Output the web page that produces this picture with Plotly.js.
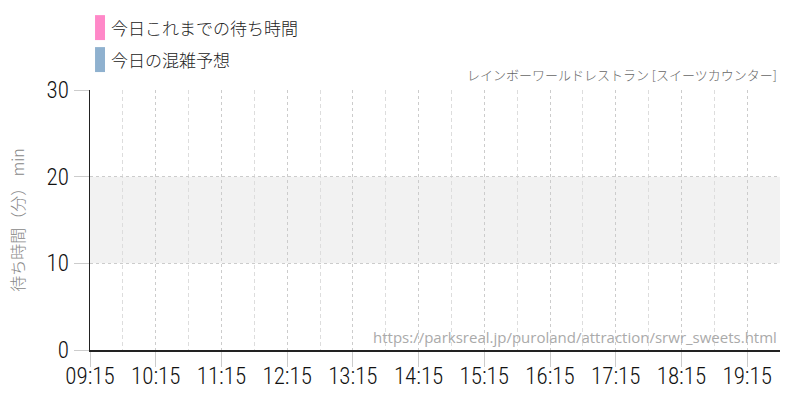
<!DOCTYPE html>
<html>
<head>
<meta charset="utf-8">
<script src="https://cdn.plot.ly/plotly-3.0.1.min.js"></script>
<style>
  html, body { margin: 0; padding: 0; background: #fff; }
  #chart { width: 800px; height: 400px; }
</style>
</head>
<body>
<div id="chart"></div>
<script>
// nothing recorded yet today, so both series are empty
const times = []
const waitSoFar = []
const forecastTimes = []
const forecastWait = []
const seriesNames = ['今日これまでの待ち時間', '今日の混雑予想']
const seriesColors = ['#ff88c8', '#8fb1cf']
const usualRange = [10, 20]
const xRange = ['2024-01-01 09:15', '2024-01-01 19:45']
const yTicks = [0, 10, 20, 30]

const JP = '"Noto Sans CJK JP", sans-serif'
const NARROW = '"Roboto Condensed", "DejaVu Sans Condensed", "DejaVu Sans", sans-serif'

let data = [
  {
    x: times,
    y: waitSoFar,
    name: seriesNames[0],
    type: 'scatter',
    mode: 'lines',
    line: { color: seriesColors[0], width: 3 },
    showlegend: false
  },
  {
    x: forecastTimes,
    y: forecastWait,
    name: seriesNames[1],
    type: 'bar',
    marker: { color: seriesColors[1] },
    showlegend: false
  }
]

// hand-drawn legend: tall colour bars with labels above the plot
let shapes = [
  {
    type: 'rect', xref: 'paper', yref: 'y', layer: 'below',
    x0: 0, x1: 1, y0: usualRange[0], y1: usualRange[1],
    fillcolor: '#f2f2f2', line: { width: 0 }
  }
]
let annotations = []
seriesNames.forEach(function (name, i) {
  let top = 1.288 - i * 0.123
  shapes.push({
    type: 'rect', xref: 'paper', yref: 'paper',
    x0: 0.0073, x1: 0.0217, y0: top - 0.096, y1: top,
    fillcolor: seriesColors[i], line: { width: 0 }
  })
  annotations.push({
    xref: 'paper', yref: 'paper', x: 0.028, y: top - 0.048,
    xanchor: 'left', yanchor: 'middle', showarrow: false,
    text: name, font: { family: JP, size: 17, color: '#222', weight: 300 }
  })
})
annotations.push({
  xref: 'paper', yref: 'paper', x: 0.998, y: 1.058,
  xanchor: 'right', yanchor: 'middle', showarrow: false,
  text: 'レインボーワールドレストラン [スイーツカウンター]',
  font: { family: JP, size: 13, color: '#666', weight: 300 }
})
annotations.push({
  xref: 'paper', yref: 'paper', x: 0.998, y: 0.05,
  xanchor: 'right', yanchor: 'middle', showarrow: false,
  text: 'https://parksreal.jp/puroland/attraction/srwr_sweets.html',
  font: { family: '"Open Sans", sans-serif', size: 15, color: '#aaa' }
})

let layout = {
  width: 800,
  height: 400,
  showlegend: false,
  paper_bgcolor: '#fff',
  plot_bgcolor: '#fff',
  margin: { l: 90, r: 20, t: 90, b: 50 },
  xaxis: {
    type: 'date',
    range: xRange,
    tick0: '2024-01-01 09:15',
    dtick: 3600000,
    tickformat: '%H:%M',
    ticks: 'outside',
    ticklen: 15,
    tickcolor: '#ccc',
    ticklabelstandoff: -10,
    tickfont: { family: NARROW, size: 23, color: '#111', stretch: 'condensed', weight: 300 },
    showgrid: true,
    gridcolor: '#ccc',
    griddash: 'dot',
    minor: {
      tickmode: 'linear',
      tick0: '2024-01-01 09:45',
      dtick: 1800000,
      showgrid: true,
      gridcolor: '#ddd',
      griddash: '4px,3px',
      ticks: ''
    },
    showline: true,
    linecolor: '#222',
    linewidth: 1.5,
    zeroline: false,
    fixedrange: true
  },
  yaxis: {
    range: [0, 30],
    tickvals: yTicks,
    ticks: 'outside',
    ticklen: 15,
    tickcolor: '#ccc',
    tickfont: { family: NARROW, size: 23, color: '#111', stretch: 'condensed', weight: 300 },
    showgrid: true,
    gridcolor: '#ccc',
    griddash: 'dot',
    showline: true,
    linecolor: '#222',
    linewidth: 1.5,
    zeroline: false,
    fixedrange: true,
    title: {
      text: '待ち時間（分） min',
      standoff: 18,
      font: { family: JP, size: 16, color: '#888', weight: 300 }
    }
  },
  shapes: shapes,
  annotations: annotations
}

let config = {
  displayModeBar: false,
  staticPlot: true
}
Plotly.newPlot('chart', data, layout, config)
</script>
</body>
</html>
